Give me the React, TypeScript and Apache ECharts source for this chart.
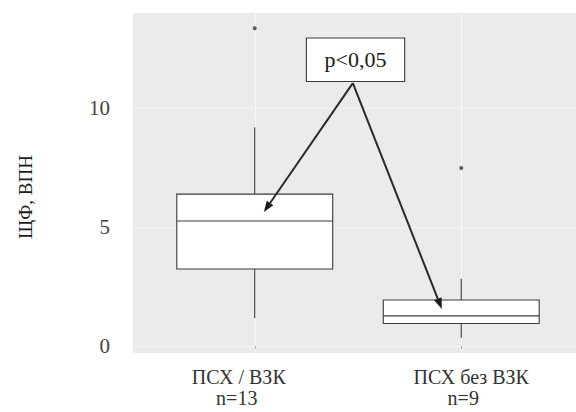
import React, { useEffect, useRef } from "react";
import * as echarts from "echarts";

// ---- data ----
const categories = ["ПСХ / ВЗК", "ПСХ без ВЗК"];
const counts = ["n=13", "n=9"];
// [min whisker, Q1, median, Q3, max whisker]
const boxStats = [
  [1.17, 3.23, 5.25, 6.38, 9.2],
  [0.34, 0.94, 1.26, 1.93, 2.82],
];
const outliers = [
  [0, 13.36],
  [1, 7.48],
];
const yTicks = [0, 5, 10];
const yMin = -0.3;
const yMax = 14;
const yTitle = "ЩФ, ВПН";

// annotation (data coordinates: x in category index units, y in axis units)
const pLabel = "p<0,05";
const pBox = { left: 0.25, right: 0.726, top: 12.95, bottom: 11.12 };
const arrowFrom = [0.475, 11.05];
const arrowTargets = [
  [0.044, 5.63],
  [0.906, 1.55],
];

// ---- styles ----
const FONT = "Liberation Serif";
const LINE = "#3a3a3a";
const BOX_RATIO = 0.755;
const labelShift = [
  [-16, -18],
  [10, 2],
];

export default function App() {
  const ref = useRef<HTMLDivElement>(null);
  useEffect(() => {
    if (!ref.current) return;
    const chart = echarts.init(ref.current, undefined, { renderer: "svg" });

    const rich: any = {};
    labelShift.forEach((pair, i) => {
      pair.forEach((s, j) => {
        rich[`c${i}_${j}`] = {
          fontFamily: FONT,
          fontSize: 20,
          lineHeight: 21,
          color: "#333",
          padding: s < 0 ? [0, -2 * s, 0, 0] : [0, 0, 0, 2 * s],
        };
      });
    });

    const option: any = {
      animation: false,
      grid: [
        { left: 133, right: 0, top: 13, bottom: 59, show: true, backgroundColor: "#ebebeb", borderWidth: 0 },
        { left: 151.5, width: 413, top: 13, bottom: 59 },
      ],
      graphic: [
        {
          type: "text",
          x: 25,
          y: 197,
          rotation: Math.PI / 2,
          style: {
            text: yTitle,
            fontFamily: FONT,
            fontSize: 19,
            fill: "#1a1a1a",
            align: "center",
            verticalAlign: "middle",
          },
        },
      ],
      xAxis: [
        { gridIndex: 0, type: "value", min: 0, max: 1, show: false },
        {
          gridIndex: 1,
          type: "category",
          data: categories,
          axisLine: { show: false },
          axisTick: { show: true, alignWithLabel: true, length: 3, lineStyle: { color: "#aaa" } },
          splitLine: { show: false },
          axisLabel: {
            margin: 13,
            formatter: (v: string, i: number) => `{c${i}_0|${v}}\n{c${i}_1|${counts[i]}}`,
            rich,
          },
        },
        {
          gridIndex: 1,
          type: "value",
          min: -0.5,
          max: 1.5,
          show: true,
          position: "top",
          axisLine: { show: false },
          axisLabel: { show: false },
          axisTick: { show: false, customValues: [0, 1] },
          splitLine: { show: true, lineStyle: { color: "#f7f7f7", width: 1 } },
        },
      ],
      yAxis: [
        {
          gridIndex: 0,
          type: "value",
          min: yMin,
          max: yMax,
          axisLine: { show: false },
          axisTick: { show: false, customValues: yTicks },
          axisLabel: {
            customValues: yTicks,
            fontFamily: FONT,
            fontSize: 21,
            color: "#444",
            margin: 23,
          },
          splitLine: { show: true, lineStyle: { color: "#f3f3f3", width: 1 } },
        },
        { gridIndex: 1, type: "value", min: yMin, max: yMax, show: false },
      ],
      series: [
        {
          type: "custom",
          xAxisIndex: 1,
          yAxisIndex: 1,
          z: 3,
          encode: { x: 0, y: [1, 2, 3, 4, 5] },
          data: boxStats.map((s, i) => [i, ...s]),
          renderItem: (_p: any, api: any) => {
            const idx = api.value(0);
            const lo = api.coord([idx, api.value(1)]);
            const q1 = api.coord([idx, api.value(2)]);
            const md = api.coord([idx, api.value(3)]);
            const q3 = api.coord([idx, api.value(4)]);
            const hi = api.coord([idx, api.value(5)]);
            const half = (api.size([1, 0])[0] * BOX_RATIO) / 2;
            const x = md[0];
            const st = { stroke: LINE, lineWidth: 1.1 };
            return {
              type: "group",
              children: [
                { type: "line", shape: { x1: x, y1: hi[1], x2: x, y2: q3[1] }, style: st },
                { type: "line", shape: { x1: x, y1: q1[1], x2: x, y2: lo[1] }, style: st },
                {
                  type: "rect",
                  shape: { x: x - half, y: q3[1], width: 2 * half, height: q1[1] - q3[1] },
                  style: { fill: "#ffffff", ...st },
                },
                { type: "line", shape: { x1: x - half, y1: md[1], x2: x + half, y2: md[1] }, style: st },
              ],
            };
          },
        },
        {
          type: "scatter",
          xAxisIndex: 1,
          yAxisIndex: 1,
          z: 4,
          symbol: "circle",
          symbolSize: 4,
          itemStyle: { color: "#333" },
          data: outliers,
        },
        {
          type: "custom",
          xAxisIndex: 2,
          yAxisIndex: 1,
          z: 10,
          data: [[arrowFrom[0], arrowFrom[1]]],
          renderItem: (_p: any, api: any) => {
            const tl = api.coord([pBox.left, pBox.top]);
            const br = api.coord([pBox.right, pBox.bottom]);
            const a = api.coord(arrowFrom);
            const children: any[] = [
              {
                type: "rect",
                shape: { x: tl[0], y: tl[1], width: br[0] - tl[0], height: br[1] - tl[1] },
                style: { fill: "#ffffff", stroke: LINE, lineWidth: 1.1 },
              },
              {
                type: "text",
                x: (tl[0] + br[0]) / 2,
                y: (tl[1] + br[1]) / 2,
                style: {
                  text: pLabel,
                  fontFamily: FONT,
                  fontSize: 22,
                  fill: "#1a1a1a",
                  align: "center",
                  verticalAlign: "middle",
                },
              },
            ];
            arrowTargets.forEach((t) => {
              const p = api.coord(t);
              const dx = p[0] - a[0];
              const dy = p[1] - a[1];
              const len = Math.sqrt(dx * dx + dy * dy);
              const ux = dx / len;
              const uy = dy / len;
              const L = 11;
              const W = 8;
              const bx = p[0] - ux * L;
              const by = p[1] - uy * L;
              const px = -uy * (W / 2);
              const py = ux * (W / 2);
              children.push({
                type: "line",
                shape: { x1: a[0], y1: a[1], x2: bx, y2: by },
                style: { stroke: "#2a2a2a", lineWidth: 2 },
              });
              children.push({
                type: "polygon",
                shape: { points: [[p[0], p[1]], [bx + px, by + py], [bx - px, by - py]] },
                style: { fill: "#1a1a1a" },
              });
            });
            return { type: "group", children };
          },
        },
      ],
    };
    chart.setOption(option);
    return () => chart.dispose();
  }, []);
  return (
    <div
      ref={ref}
      style={{ position: "absolute", left: 0, top: 0, width: 576, height: 412 }}
    />
  );
}
